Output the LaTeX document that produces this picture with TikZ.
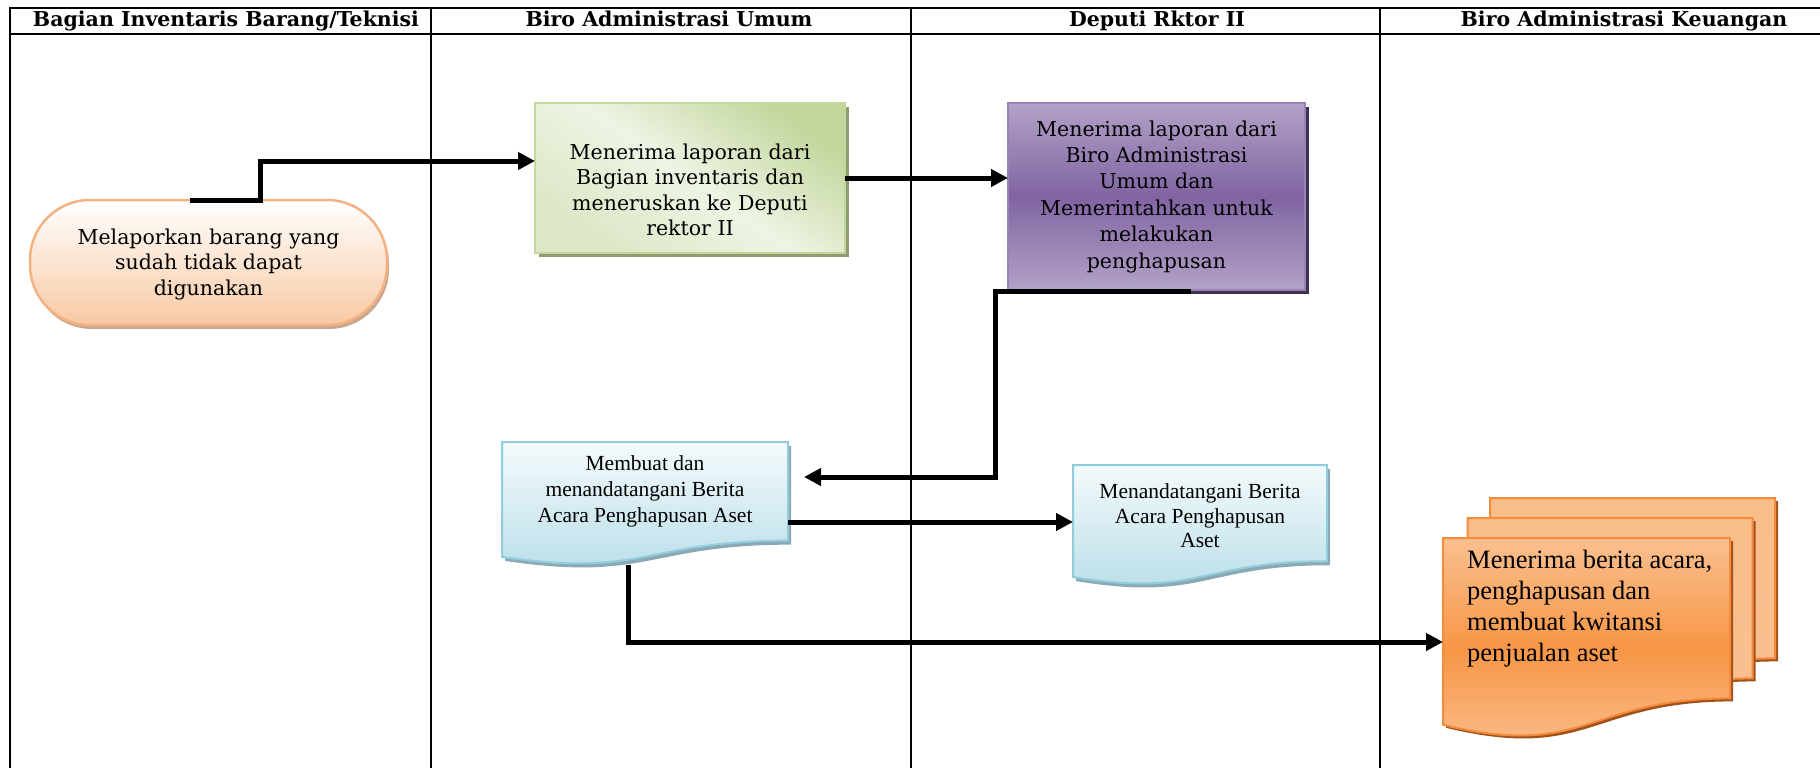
\documentclass[tikz,border=0pt]{standalone}
\usepackage{fontspec}
\newfontfamily\bkfont{DejaVu Serif}
\newfontfamily\tmfont{Liberation Serif}
\usetikzlibrary{arrows.meta,calc,backgrounds,shadows}

\definecolor{pillborder}{HTML}{F4B183}
\definecolor{pillbot}{HTML}{F8C9A3}
\definecolor{pillshadow}{HTML}{C8A88E}
\definecolor{grnborder}{HTML}{C3D69B}
\definecolor{grndark}{HTML}{C2D69C}
\definecolor{grnlight}{HTML}{EEF4E4}
\definecolor{grnmid}{HTML}{DCE7C6}
\definecolor{grnshadow}{HTML}{8E9C70}
\definecolor{purlight}{HTML}{B3A2C7}
\definecolor{purdark}{HTML}{8064A2}
\definecolor{purborder}{HTML}{9881B5}
\definecolor{purshadow}{HTML}{3F3151}
\definecolor{bluetop}{HTML}{F4FAFC}
\definecolor{bluebot}{HTML}{B7DDE8}
\definecolor{blueborder}{HTML}{92CDDC}
\definecolor{blueshadow}{HTML}{8AA9B4}
\definecolor{orglight}{HTML}{FAC090}
\definecolor{orgmid}{HTML}{F79646}
\definecolor{orgborder}{HTML}{F58B3C}
\definecolor{orgshadow}{HTML}{A1521A}
\definecolor{orgback}{HTML}{F9BD8A}

% document outline (flat top, wavy bottom) traced over an empty node
\newcommand\docoutline[2]{%
  \path[#2] let \p1=(#1.north west), \p2=(#1.south east) in
    (\x1,\y1) -- (\x2,\y1) -- (\x2,{\y1+0.802*(\y2-\y1)})
    .. controls ({0.5*(\x1+\x2)},{\y1+0.802*(\y2-\y1)})
            and ({0.5*(\x1+\x2)},{\y1+1.1075*(\y2-\y1)})
    .. (\x1,{\y1+0.934*(\y2-\y1)}) -- cycle;}

\begin{document}
\begin{tikzpicture}[x=1pt,y=-1pt,
  lane/.style={line width=2pt},
  flow/.style={line width=5pt,-{Triangle[length=17pt,width=17pt]}},
  hdr/.style={inner sep=0pt,anchor=base,font=\bkfont\bfseries\fontsize{20.5}{24}\selectfont},
  bktxt/.style={inner sep=0pt,align=center,font=\bkfont\fontsize{20.5}{25.5}\selectfont},
  tmtxt/.style={inner sep=0pt,align=center},
  area/.style={inner sep=0pt,outer sep=0pt},
  pillbox/.style={area,rounded corners=60pt,draw=pillborder,line width=2.5pt,
    top color=white,bottom color=pillbot,
    drop shadow={shadow xshift=2pt,shadow yshift=-4pt,fill=pillshadow,opacity=1}},
  grnbox/.style={area,draw=grnborder,line width=2pt,
    top color=grndark,bottom color=grnmid,middle color=grnlight,shading angle=-35,
    drop shadow={shadow xshift=4pt,shadow yshift=-4pt,fill=grnshadow,opacity=1}},
  purbox/.style={area,draw=purborder,line width=2pt,
    top color=purlight,bottom color=purlight,middle color=purdark,
    drop shadow={shadow xshift=4pt,shadow yshift=-4pt,fill=purshadow,opacity=1}},
  bluedoc/.style={draw=blueborder,line width=2pt,top color=bluetop,bottom color=bluebot,
    drop shadow={shadow xshift=3pt,shadow yshift=-4pt,fill=blueshadow,opacity=1}},
  orgdoc/.style={draw=orgborder,line width=2pt,
    top color=orglight,bottom color=orglight,middle color=orgmid,
    drop shadow={shadow xshift=3pt,shadow yshift=-3pt,fill=orgshadow,opacity=1}},
  orgbackdoc/.style={draw=orgborder,line width=2pt,top color=orgback,bottom color=orglight,
    drop shadow={shadow xshift=3pt,shadow yshift=-3pt,fill=orgshadow,opacity=1}},
]
\useasboundingbox (0,0) rectangle (1820,768);

% swimlane grid
\draw[lane] (10,768) -- (10,8) -- (1820,8);
\draw[lane] (10,34) -- (1820,34);
\foreach \xl in {431,911,1380} \draw[lane] (\xl,8) -- (\xl,768);

% lane titles
\node[hdr] (lane1) at (226,27) {Bagian Inventaris Barang/Teknisi};
\node[hdr] (lane2) at (669,27) {Biro Administrasi Umum};
\node[hdr] (lane3) at (1157,27) {Deputi Rktor II};
\node[hdr] (lane4) at (1624,27) {Biro Administrasi Keuangan};

% process boxes
\node[pillbox,minimum width=357pt,minimum height=125pt] (pill) at (208.5,262.5) {};
\node[bktxt] (pilltxt) at ([yshift=-1.5pt]pill.center)
  {Melaporkan barang yang\\sudah tidak dapat\\digunakan};

\node[grnbox,minimum width=310pt,minimum height=150pt] (green) at (690,178) {};
\node[bktxt] (greentxt) at ([yshift=-12pt]green.center)
  {Menerima laporan dari\\Bagian inventaris dan\\meneruskan ke Deputi\\rektor II};

\node[purbox,minimum width=297pt,minimum height=187pt] (purple) at (1156.5,196.5) {};
\node[bktxt,font=\bkfont\fontsize{20.5}{26.4}\selectfont] (purtxt) at (purple.center)
  {Menerima laporan dari\\Biro Administrasi\\Umum dan\\Memerintahkan untuk\\melakukan\\penghapusan};

% document shapes
\node[area,minimum width=286pt,minimum height=123pt] (doc1) at (645,503.5) {};
\node[area,minimum width=254pt,minimum height=120pt] (doc2) at (1200,525) {};
\node[area,minimum width=285pt,minimum height=200pt] (oback) at (1632.5,598) {};
\node[area,minimum width=285pt,minimum height=200pt] (omid) at (1610,618) {};
\node[area,minimum width=287pt,minimum height=200pt] (ofront) at (1586.5,638) {};

\begin{scope}[on background layer]
  \docoutline{doc1}{bluedoc}
  \docoutline{doc2}{bluedoc}
  \docoutline{oback}{orgbackdoc}
  \docoutline{omid}{orgbackdoc}
  \docoutline{ofront}{orgdoc}
\end{scope}

\node[tmtxt,font=\tmfont\fontsize{21.5}{26}\selectfont] (doc1txt) at ([yshift=12.5pt]doc1.center)
  {Membuat dan\\menandatangani Berita\\Acara Penghapusan Aset};
\node[tmtxt,font=\tmfont\fontsize{21.5}{24.5}\selectfont] (doc2txt) at ([yshift=9pt]doc2.center)
  {Menandatangani Berita\\Acara Penghapusan\\Aset};
\node[inner sep=0pt,align=left,anchor=west,font=\tmfont\fontsize{26.5}{31}\selectfont]
  (ofronttxt) at (1467,609)
  {Menerima berita acara,\\penghapusan dan\\membuat kwitansi\\penjualan aset};

% connectors
\draw[flow] ([xshift=-18.5pt]pill.north) -- ([xshift=51.5pt]pill.north)
  |- ([yshift=17pt]green.west);
\draw[flow] (green.east) -- (green.east -| purple.west);
\draw[flow] ([xshift=34pt,yshift=-1.5pt]purple.south) -- ++(-195,0)
  |- ([xshift=16pt,yshift=26.5pt]doc1.east);
\draw[flow] ([yshift=3pt]doc2.west -| doc1.east) -- ([yshift=3pt]doc2.west);
\draw[flow] ([xshift=-17pt]doc1.south) |- ([yshift=-4pt]ofront.west);
\end{tikzpicture}
\end{document}
